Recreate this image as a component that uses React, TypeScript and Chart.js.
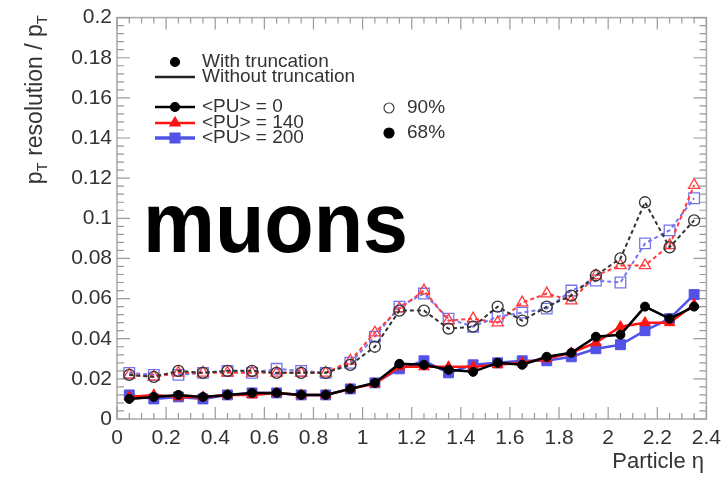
import React, { useEffect, useRef } from "react";
import { Chart, registerables } from "chart.js";

Chart.register(...registerables);

// ---- data ----
const etaCenters = [0.05, 0.15, 0.25, 0.35, 0.45, 0.55, 0.65, 0.75, 0.85, 0.95, 1.05, 1.15, 1.25, 1.35, 1.45, 1.55, 1.65, 1.75, 1.85, 1.95, 2.05, 2.15, 2.25, 2.35];

const pu0Res68 = [0.010, 0.011, 0.012, 0.011, 0.012, 0.013, 0.013, 0.012, 0.012, 0.015, 0.018, 0.0275, 0.027, 0.0245, 0.0235, 0.028, 0.027, 0.031, 0.033, 0.041, 0.042, 0.056, 0.050, 0.056];
const pu140Res68 = [0.011, 0.012, 0.011, 0.011, 0.012, 0.012, 0.013, 0.012, 0.012, 0.015, 0.0175, 0.026, 0.026, 0.026, 0.026, 0.027, 0.028, 0.030, 0.033, 0.038, 0.046, 0.048, 0.048, 0.057];
const pu200Res68 = [0.012, 0.010, 0.011, 0.010, 0.012, 0.013, 0.013, 0.012, 0.012, 0.015, 0.018, 0.025, 0.029, 0.023, 0.027, 0.028, 0.029, 0.029, 0.031, 0.035, 0.037, 0.044, 0.050, 0.062];

const pu0Res90 = [0.022, 0.021, 0.024, 0.023, 0.024, 0.024, 0.023, 0.023, 0.023, 0.027, 0.036, 0.054, 0.054, 0.045, 0.046, 0.056, 0.049, 0.056, 0.0615, 0.0715, 0.080, 0.108, 0.0855, 0.099];
const pu140Res90 = [0.022, 0.021, 0.023, 0.023, 0.023, 0.023, 0.023, 0.023, 0.023, 0.029, 0.043, 0.055, 0.064, 0.049, 0.050, 0.048, 0.058, 0.0625, 0.059, 0.0715, 0.0765, 0.0765, 0.0865, 0.1165];
const pu200Res90 = [0.023, 0.022, 0.022, 0.023, 0.024, 0.023, 0.025, 0.024, 0.023, 0.028, 0.041, 0.056, 0.0625, 0.050, 0.046, 0.051, 0.053, 0.055, 0.064, 0.069, 0.068, 0.0875, 0.094, 0.110];

const xTickValues = [0, 0.2, 0.4, 0.6, 0.8, 1, 1.2, 1.4, 1.6, 1.8, 2, 2.2, 2.4];
const yTickValues = [0, 0.02, 0.04, 0.06, 0.08, 0.1, 0.12, 0.14, 0.16, 0.18, 0.2];

const BLACK = "#000000";
const RED = "#ff1414";
const BLUE = "#5252e6";
const OPEN_BLACK = "#333333";
const OPEN_RED = "#ff3c3c";
const OPEN_BLUE = "#7474f0";
const FONT = '"Liberation Sans", Arial, sans-serif';

const toPoints = (ys: number[]) => etaCenters.map((x, i) => ({ x, y: ys[i] }));

function drawMarker(ctx: CanvasRenderingContext2D, kind: string, x: number, y: number, r: number, fill: string | null, stroke: string, lw = 1.2) {
  ctx.beginPath();
  if (kind === "circle") {
    ctx.arc(x, y, r, 0, Math.PI * 2);
  } else if (kind === "triangle") {
    ctx.moveTo(x, y - r);
    ctx.lineTo(x + r * 0.866, y + r * 0.5);
    ctx.lineTo(x - r * 0.866, y + r * 0.5);
    ctx.closePath();
  } else {
    const s = r * Math.SQRT1_2;
    ctx.rect(x - s, y - s, 2 * s, 2 * s);
  }
  if (fill) {
    ctx.fillStyle = fill;
    ctx.fill();
  }
  ctx.strokeStyle = stroke;
  ctx.lineWidth = lw;
  ctx.stroke();
}

const decorPlugin = {
  id: "decor",
  beforeDatasetsDraw(chart: any) {
    const ctx: CanvasRenderingContext2D = chart.ctx;
    const { left, right, top, bottom } = chart.chartArea;
    const xs = chart.scales.x;
    const ys = chart.scales.y;
    ctx.save();
    // frame
    ctx.strokeStyle = "#a8a8a8";
    ctx.lineWidth = 1.5;
    ctx.strokeRect(left, top, right - left, bottom - top);
    // ticks
    ctx.strokeStyle = "#9a9a9a";
    ctx.lineWidth = 1.2;
    ctx.beginPath();
    for (let i = 0; i <= 48; i++) {
      const v = i * 0.05;
      const px = xs.getPixelForValue(v);
      const len = i % 4 === 0 ? 12 : 6;
      ctx.moveTo(px, bottom);
      ctx.lineTo(px, bottom - len);
      ctx.moveTo(px, top);
      ctx.lineTo(px, top + len);
    }
    for (let i = 0; i <= 50; i++) {
      const v = i * 0.004;
      const py = ys.getPixelForValue(v);
      const len = i % 5 === 0 ? 13 : 7;
      ctx.moveTo(left, py);
      ctx.lineTo(left + len, py);
      ctx.moveTo(right, py);
      ctx.lineTo(right - len, py);
    }
    ctx.stroke();
    ctx.restore();
  },
  afterDraw(chart: any) {
    const ctx: CanvasRenderingContext2D = chart.ctx;
    ctx.save();
    // big label
    ctx.fillStyle = "#000";
    ctx.font = `bold 86px ${FONT}`;
    ctx.textBaseline = "alphabetic";
    ctx.textAlign = "left";
    ctx.save();
    ctx.translate(143, 252);
    ctx.scale(0.94, 1);
    ctx.fillText("muons", 0, 0);
    ctx.restore();

    // legend
    ctx.fillStyle = "#333";
    ctx.font = `19px ${FONT}`;
    ctx.textBaseline = "middle";
    drawMarker(ctx, "circle", 175, 62, 4.5, BLACK, BLACK);
    ctx.fillStyle = "#333";
    ctx.fillText("With truncation", 202, 62);
    ctx.strokeStyle = "#222";
    ctx.lineWidth = 2.5;
    ctx.beginPath();
    ctx.moveTo(155, 77);
    ctx.lineTo(195, 77);
    ctx.stroke();
    ctx.fillText("Without truncation", 202, 77);

    const rows = [
      { y: 107, color: BLACK, kind: "circle", r: 4.5, text: "<PU> = 0", lw: 2.5 },
      { y: 123, color: RED, kind: "triangle", r: 6, text: "<PU> = 140", lw: 2.5 },
      { y: 138, color: BLUE, kind: "rect", r: 7, text: "<PU> = 200", lw: 3.5 },
    ];
    rows.forEach((row) => {
      ctx.strokeStyle = row.color;
      ctx.lineWidth = row.lw;
      ctx.beginPath();
      ctx.moveTo(155, row.y);
      ctx.lineTo(195, row.y);
      ctx.stroke();
      drawMarker(ctx, row.kind, 175, row.y, row.r, row.color, row.color);
      ctx.fillStyle = "#333";
      ctx.fillText(row.text, 202, row.y);
    });
    drawMarker(ctx, "circle", 389, 108, 5, null, "#444", 1.2);
    ctx.fillStyle = "#333";
    ctx.fillText("90%", 407, 108);
    drawMarker(ctx, "circle", 389, 133, 5, BLACK, BLACK);
    ctx.fillStyle = "#333";
    ctx.fillText("68%", 407, 133);

    // x-axis title
    ctx.font = `22px ${FONT}`;
    ctx.textAlign = "right";
    ctx.textBaseline = "middle";
    ctx.fillText("Particle \u03b7", 704, 462);

    // y-axis title (rotated), with subscripts
    ctx.save();
    ctx.translate(42, 15);
    ctx.rotate(-Math.PI / 2);
    ctx.textAlign = "left";
    ctx.textBaseline = "alphabetic";
    const big = `23px ${FONT}`;
    const small = `15px ${FONT}`;
    const parts = [
      { t: "p", f: big, dy: 0 },
      { t: "T", f: small, dy: 5 },
      { t: " resolution / p", f: big, dy: 0 },
      { t: "T", f: small, dy: 5 },
    ];
    let total = 0;
    parts.forEach((p) => {
      ctx.font = p.f;
      total += ctx.measureText(p.t).width;
    });
    let cx = -total;
    parts.forEach((p) => {
      ctx.font = p.f;
      ctx.fillText(p.t, cx, p.dy);
      cx += ctx.measureText(p.t).width;
    });
    ctx.restore();
    ctx.restore();
  },
};

export default function App() {
  const canvasRef = useRef<HTMLCanvasElement | null>(null);

  useEffect(() => {
    if (!canvasRef.current) return;
    const solid = (label: string, data: number[], color: string, style: string, r: number, lw: number) => ({
      label,
      data: toPoints(data),
      borderColor: color,
      backgroundColor: color,
      borderWidth: lw,
      pointStyle: style,
      pointRadius: r,
      pointBackgroundColor: color,
      pointBorderColor: color,
      pointBorderWidth: 1,
      tension: 0,
    });
    const dashed = (label: string, data: number[], color: string, style: string, r: number) => ({
      label,
      data: toPoints(data),
      borderColor: color,
      backgroundColor: "transparent",
      borderWidth: 2,
      borderDash: [4, 3],
      pointStyle: style,
      pointRadius: r,
      pointBackgroundColor: "rgba(0,0,0,0)",
      pointBorderColor: color,
      pointBorderWidth: 1.3,
      tension: 0,
    });

    const chart = new Chart(canvasRef.current, {
      type: "line",
      data: {
        datasets: [
          solid("<PU> = 0, 68%", pu0Res68, BLACK, "circle", 4.5, 2.5),
          solid("<PU> = 140, 68%", pu140Res68, RED, "triangle", 6, 2.5),
          solid("<PU> = 200, 68%", pu200Res68, BLUE, "rect", 7, 2.5),
          dashed("<PU> = 0, 90%", pu0Res90, OPEN_BLACK, "circle", 5.5),
          dashed("<PU> = 140, 90%", pu140Res90, OPEN_RED, "triangle", 6.5),
          dashed("<PU> = 200, 90%", pu200Res90, OPEN_BLUE, "rect", 7.5),
        ] as any,
      },
      options: {
        animation: false,
        responsive: true,
        maintainAspectRatio: false,
        layout: { padding: { left: 0, top: 17, right: 18, bottom: 0 } },
        plugins: {
          legend: { display: false },
          tooltip: { enabled: false },
        },
        scales: {
          x: {
            type: "linear",
            min: 0,
            max: 2.4,
            grid: { display: false, drawTicks: false },
            border: { display: false },
            afterBuildTicks: (s: any) => {
              s.ticks = xTickValues.map((v) => ({ value: v }));
            },
            afterFit: (s: any) => {
              s.height = 72;
            },
            ticks: {
              autoSkip: false,
              maxRotation: 0,
              padding: 7,
              color: "#333",
              font: { family: FONT, size: 21 },
              callback: (v: any) => String(Number(Number(v).toFixed(2))),
            },
          },
          y: {
            type: "linear",
            min: 0,
            max: 0.2,
            grid: { display: false, drawTicks: false },
            border: { display: false },
            afterBuildTicks: (s: any) => {
              s.ticks = yTickValues.map((v) => ({ value: v }));
            },
            afterFit: (s: any) => {
              s.width = 117;
            },
            ticks: {
              autoSkip: false,
              padding: 5,
              color: "#333",
              font: { family: FONT, size: 21 },
              callback: (v: any) => String(Number(Number(v).toFixed(3))),
            },
          },
        },
      },
      plugins: [decorPlugin],
    });
    return () => chart.destroy();
  }, []);

  return (
    <div style={{ position: "fixed", left: 0, top: 0, width: 728, height: 491, background: "#fff" }}>
      <canvas ref={canvasRef} />
    </div>
  );
}
